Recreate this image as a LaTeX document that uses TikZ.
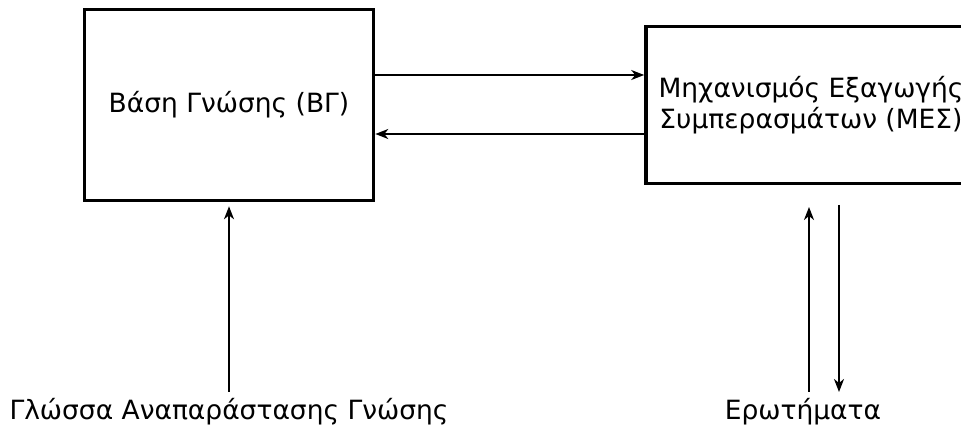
\documentclass[tikz,border=0pt]{standalone}
\usepackage{fontspec}
\setmainfont{DejaVu Sans}
\usetikzlibrary{arrows.meta}
\begin{document}
\begin{tikzpicture}[x=1pt,y=-1pt,
  boxnode/.style={draw,line width=3.6pt,inner sep=0pt,align=center,font=\fontsize{26.5}{31}\selectfont},
  lbl/.style={inner sep=0pt,font=\fontsize{26.5}{31}\selectfont},
  arr/.style={line width=2pt,-{Stealth[length=13pt,width=10pt,inset=4pt]}}]
\useasboundingbox (0,0) rectangle (961,427);
\clip (0,0) rectangle (961,427);
\node[boxnode,minimum width=289pt,minimum height=191pt] (lb) at (229,105) {Βάση Γνώσης (ΒΓ)};
\node[boxnode,minimum width=330pt,minimum height=157pt] (rb) at (811,105) {Μηχανισμός Εξαγωγής\\Συμπερασμάτων (ΜΕΣ)};
\node[lbl,anchor=base] (gl) at (229,420) {Γλώσσα Αναπαράστασης Γνώσης};
\node[lbl,anchor=base] (er) at (803,420) {Ερωτήματα};
\coordinate (a1) at (0,75);
\coordinate (a2) at (0,134);
\coordinate (u1) at (809,392);
\coordinate (u2) at (809,207);
\coordinate (d1) at (839,205);
\coordinate (d2) at (839,392);
\coordinate (g1) at (229,392);
\draw[arr] (lb.east |- a1) -- (rb.west |- a1);
\draw[arr] (rb.west |- a2) -- (lb.east |- a2);
\draw[arr] (g1) -- ([yshift=-4pt]lb.south);
\draw[arr] (u1) -- (u2);
\draw[arr] (d1) -- (d2);
\end{tikzpicture}
\end{document}
